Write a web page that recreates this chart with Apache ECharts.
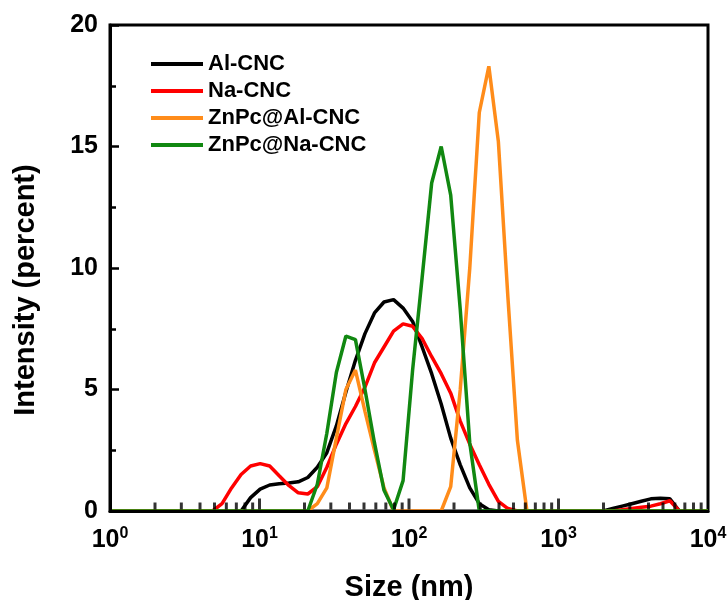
<!DOCTYPE html>
<html>
<head>
<meta charset="utf-8">
<script src="https://cdn.jsdelivr.net/npm/echarts@6/dist/echarts.min.js"></script>
<style>
html,body{margin:0;padding:0;background:#fff;}
#chart{width:727px;height:600px;}
</style>
</head>
<body>
<div id="chart"></div>
<script>
// Size bins (nm)
const sizes = [1, 1.117, 1.294, 1.499, 1.736, 2.010, 2.328, 2.696, 3.122, 3.615, 4.187, 4.849, 5.615, 6.503, 7.531, 8.721, 10.1, 11.7, 13.54, 15.69, 18.17, 21.04, 24.36, 28.21, 32.67, 37.84, 43.82, 50.75, 58.77, 68.06, 78.82, 91.28, 105.7, 122.4, 141.8, 164.2, 190.1, 220.2, 255.0, 295.3, 342.0, 396.1, 458.7, 531.2, 615.1, 712.4, 825.0, 955.4, 1106, 1281, 1484, 1718, 1990, 2305, 2669, 3091, 3580, 4145, 4801, 5560, 6439, 7456, 8635, 10000];

const seriesNames = ['Al-CNC', 'Na-CNC', 'ZnPc@Al-CNC', 'ZnPc@Na-CNC'];

const alCNC = [0,0,0,0,0,0,0,0,0,0,0,0,0,0,0, 0.55,0.9,1.07,1.12,1.15,1.2,1.38,1.8,2.4,3.5,4.9,6.2,7.3,8.15,8.6,8.7,8.35,7.8,6.75,5.65,4.4,3.0,1.9,0.95,0.3,0.05, 0,0,0,0,0,0,0,0,0,0,0,0, 0.1,0.2,0.3,0.4,0.5,0.52,0.5,0, 0,0,0];

const naCNC = [0,0,0,0,0,0,0,0,0,0,0,0, 0.3,0.95,1.5,1.85,1.95,1.85,1.45,1.05,0.75,0.7,1.0,1.8,2.75,3.6,4.3,5.1,6.1,6.75,7.4,7.7,7.6,7.1,6.35,5.65,4.85,3.7,2.75,1.9,1.1,0.4,0.1, 0,0,0,0,0,0,0,0,0,0, 0,0.05,0.1,0.15,0.2,0.3,0.42,0, 0,0,0];

const znAlCNC = [0,0,0,0,0,0,0,0,0,0,0,0,0,0,0,0,0,0,0,0,0,0, 0.3,0.95,3.0,5.0,5.8,4.1,2.5,0.95,0, 0,0,0,0,0, 1.0,5.0,10.0,16.4,18.3,15.2,8.8,2.9,0, 0,0,0,0,0,0,0,0,0,0,0,0,0,0,0,0,0,0,0];

const znNaCNC = [0,0,0,0,0,0,0,0,0,0,0,0,0,0,0,0,0,0,0,0,0,0, 1.1,3.2,5.7,7.2,7.05,5.0,2.8,0.85,0.05,1.25,5.8,9.6,13.5,15.0,13.0,8.3,2.8,0, 0,0,0,0,0,0,0,0,0,0,0,0,0,0,0,0,0,0,0,0,0,0,0,0];

const colors = ['#000000', '#ff0000', '#ff8c1a', '#118811'];

const yTicks = [0, 5, 10, 15, 20];
const xTickValues = [1, 10, 100, 1000, 10000];
const majorInnerTicks = [10, 100, 1000];
const minorTickValues = [2,3,4,5,6,7,8,9, 20,30,40,50,60,70,80,90, 200,300,400,500,600,700,800,900, 2000,3000,4000,5000,6000,7000,8000,9000];

const FONT = '"Liberation Sans", Arial, sans-serif';
const allSeries = [alCNC, naCNC, znAlCNC, znNaCNC];

const chart = echarts.init(document.getElementById('chart'), null, {renderer: 'canvas'});

const lineSeries = seriesNames.map((name, i) => ({
  name: name,
  type: 'line',
  xAxisIndex: 0,
  data: sizes.map((s, j) => [s, allSeries[i][j]]),
  symbol: 'none',
  showSymbol: false,
  smooth: false,
  lineStyle: {color: colors[i], width: 3.5},
  itemStyle: {color: colors[i]},
  z: 2 + i,
  silent: true,
  animation: false
}));

const tickSeries = {
  name: 'minorTicks',
  type: 'scatter',
  data: minorTickValues.map(v => [v, 0]),
  symbol: 'rect',
  symbolSize: [3, 7],
  symbolOffset: [0, -5],
  itemStyle: {color: '#000'},
  clip: false,
  z: 20,
  zlevel: 1,
  silent: true,
  animation: false
};

const majorTickSeries = {
  name: 'majorTicks',
  type: 'scatter',
  data: majorInnerTicks.map(v => [v, 0]),
  symbol: 'rect',
  symbolSize: [3, 11],
  symbolOffset: [0, -7],
  itemStyle: {color: '#000'},
  clip: false,
  z: 20,
  zlevel: 1,
  silent: true,
  animation: false
};

chart.setOption({
  animation: false,
  backgroundColor: '#fff',
  grid: {left: 110, right: 19, top: 25, bottom: 89, outerBoundsMode: 'none', show: true, borderColor: '#000', borderWidth: 3, backgroundColor: 'transparent'},
  legend: {
    data: seriesNames,
    orient: 'vertical',
    left: 146,
    top: 48,
    icon: 'rect',
    itemWidth: 52,
    itemHeight: 4,
    itemGap: 5,
    textStyle: {fontFamily: FONT, fontWeight: 'bold', fontSize: 22, lineHeight: 22, color: '#000'},
    selectedMode: false
  },
  xAxis: {
    type: 'log',
    logBase: 10,
    min: 1,
    max: 10000,
    z: 10,
    name: 'Size (nm)',
    nameLocation: 'middle',
    nameGap: 62,
    nameTextStyle: {fontFamily: FONT, fontWeight: 'bold', fontSize: 29, color: '#000'},
    axisLine: {show: true, onZero: false, lineStyle: {color: '#000', width: 3}},
    axisTick: {show: false},
    splitLine: {show: false},
    axisLabel: {
      margin: 15,
      formatter: function (v) {
        const e = Math.round(Math.log10(v));
        return '{b|10}{s|' + e + '}';
      },
      rich: {
        b: {fontFamily: FONT, fontWeight: 'bold', fontSize: 25, color: '#000', lineHeight: 28},
        s: {fontFamily: FONT, fontWeight: 'bold', fontSize: 16, color: '#000', lineHeight: 16, verticalAlign: 'top'}
      }
    }
  },
  yAxis: {
    type: 'value',
    min: 0,
    max: 20,
    interval: 5,
    z: 10,
    name: 'Intensity (percent)',
    nameLocation: 'middle',
    nameGap: 70,
    nameRotate: 90,
    nameTextStyle: {fontFamily: FONT, fontWeight: 'bold', fontSize: 29, color: '#000', padding: [0, 44, 0, 0]},
    axisLine: {show: true, lineStyle: {color: '#000', width: 3}},
    axisTick: {show: true, inside: true, length: 9, lineStyle: {color: '#000', width: 2.5}},
    minorTick: {show: true, splitNumber: 2, length: 6, lineStyle: {color: '#000', width: 2.5}},
    splitLine: {show: false},
    axisLabel: {margin: 12, fontFamily: FONT, fontWeight: 'bold', fontSize: 25, color: '#000'}
  },
  series: lineSeries.concat([tickSeries, majorTickSeries])
});
</script>
</body>
</html>
